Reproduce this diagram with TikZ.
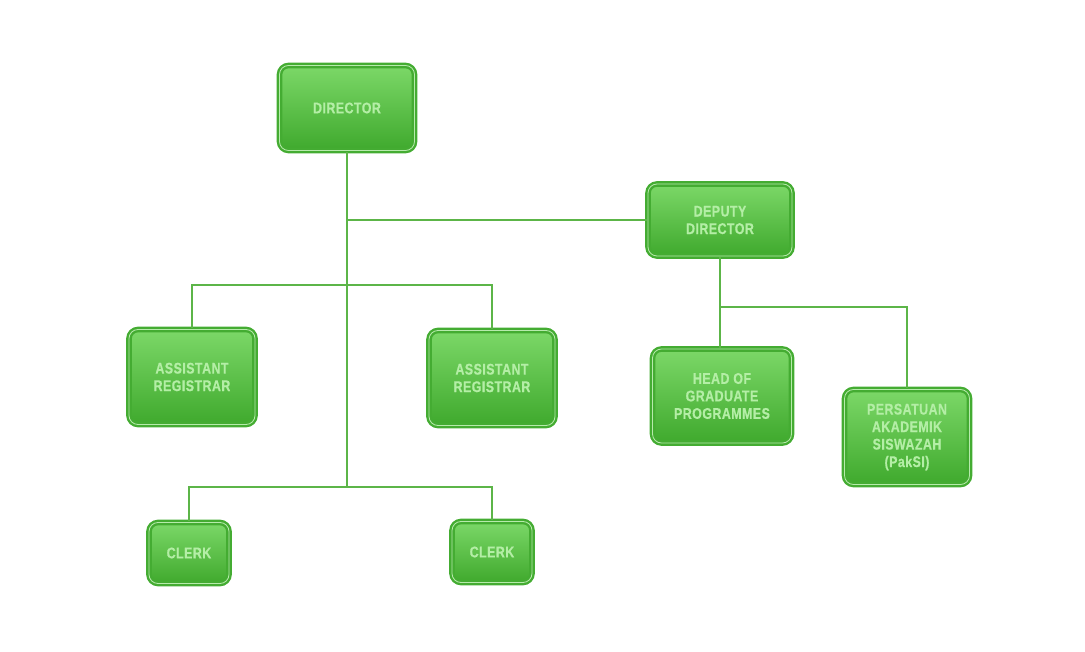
\documentclass[tikz,border=0pt]{standalone}
\usepackage{fontspec}
\setmainfont{Liberation Sans}[FakeStretch=0.8,LetterSpace=3,FakeBold=0.6]
\usetikzlibrary{positioning,calc}
\definecolor{boxrim}{HTML}{44AC32}
\definecolor{boxtop}{HTML}{7CD868}
\definecolor{boxbot}{HTML}{3FA92D}
\definecolor{boxtext}{HTML}{B4EEA6}
\definecolor{wire}{HTML}{5CB548}
\tikzset{
  unit/.style={
      draw=boxrim,
      line width=2.4pt,
      double=boxtop!55!white,
      double distance=0.8pt,
      rounded corners=9pt,
      top color=boxtop,
      bottom color=boxbot,
      text=boxtext,
      align=center,
      font=\fontsize{15.5}{17.5}\selectfont\bfseries,
      inner sep=0pt,
  },
  link/.style={
      draw=wire,
      line width=1.6pt,
  }
}
\begin{document}
\begin{tikzpicture}[x=1pt,y=-1pt]
	\useasboundingbox (0,0) rectangle (1085,652);
	% boxes
	\node[unit,minimum width=135,minimum height=85] (dir) at (347,108) {DIRECTOR};
	\node[unit,minimum width=144,minimum height=72] (dep) at (720,220) {DEPUTY\\DIRECTOR};
	\node[unit,minimum width=126,minimum height=95] (ar1) at (192,377) {ASSISTANT\\REGISTRAR};
	\node[unit,minimum width=126,minimum height=95] (ar2) at (492,378) {ASSISTANT\\REGISTRAR};
	\node[unit,minimum width=139,minimum height=94] (head) at (722,396) {HEAD OF\\GRADUATE\\PROGRAMMES};
	\node[unit,minimum width=125,minimum height=95] (pak) at (907,437) {PERSATUAN\\AKADEMIK\\SISWAZAH\\(PakSI)};
	\node[unit,minimum width=80,minimum height=61] (clk1) at (189,553) {CLERK};
	\node[unit,minimum width=80,minimum height=61] (clk2) at (492,552) {CLERK};
	% junctions
	\coordinate (arbus) at (347,285);
	\coordinate (clkbus) at (347,487);
	\coordinate (depbus) at (720,307);
	% lines
	\draw[link] (dir.south) -- (clkbus);
	\draw[link] (dep.west) -- (dep.west -| dir.south);
	\draw[link] (ar1.north) -- (ar1.north |- arbus) -- (ar2.north |- arbus) -- (ar2.north);
	\draw[link] (clk1.north) -- (clk1.north |- clkbus) -- (clk2.north |- clkbus) -- (clk2.north);
	\draw[link] (dep.south) -- (dep.south |- head.north);
	\draw[link] (depbus) -| (pak.north);
\end{tikzpicture}
\end{document}
